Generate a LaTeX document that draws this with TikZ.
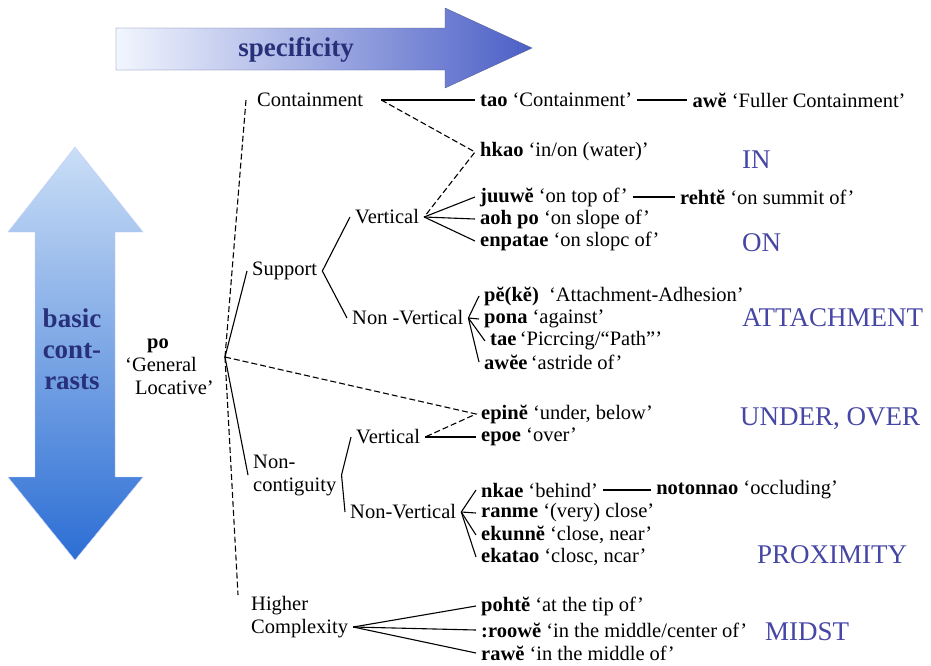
\documentclass[tikz,border=0pt]{standalone}
\usepackage{fontspec}
\setmainfont{Liberation Serif}
\usetikzlibrary{positioning}
\definecolor{navy}{RGB}{40,48,122}
\definecolor{areablue}{RGB}{70,70,165}
\definecolor{specleft}{RGB}{242,246,254}
\definecolor{specright}{RGB}{76,95,198}
\definecolor{specedge}{RGB}{85,95,145}
\definecolor{basictop}{RGB}{202,222,246}
\definecolor{basicbottom}{RGB}{44,110,212}

\begin{document}
\begin{tikzpicture}[x=1pt,y=-1pt,
    word/.style={anchor=west,inner xsep=5pt,inner ysep=1pt,align=left,font=\fontsize{20.5}{23}\selectfont},
    area/.style={anchor=west,inner xsep=0pt,text=areablue,font=\fontsize{27}{30}\selectfont},
    tie/.style={line width=1.1pt},
    hint/.style={line width=1.1pt,dash pattern=on 6pt off 3pt}]
    \useasboundingbox (0,0) rectangle (931,665);

    \draw[specedge,left color=specleft,right color=specright] (116,28) -- (445,28) -- (445,8) -- (532,48) -- (445,88) -- (445,70) -- (116,70) -- cycle;
    \node[text=navy,font=\fontsize{27}{30}\selectfont\bfseries] (spec) at (296,50) {specificity};
    \draw[basictop!70!blue!50,top color=basictop,bottom color=basicbottom] (75,147) -- (143,232) -- (115,232) -- (115,477) -- (143,477) -- (75,560) -- (8,477) -- (35,477) -- (35,232) -- (8,232) -- cycle;
    \node[text=navy,align=center,font=\fontsize{27}{31}\selectfont\bfseries] (basic) at (72,349) {basic\\cont-\\rasts};

    \node[word] (po) at (120,367) {\hspace*{22pt}\textbf{po}\\‘General\\\hspace*{10pt}Locative’};
    \node[word] (cont) at (252,100) {Containment};
    \node[word] (supp) at (247,271) {Support};
    \node[word] (noncon) at (248,475) {Non-\\contiguity};
    \node[word] (higher) at (246,617) {Higher\\Complexity};

    \node[word] (svert) at (350,217) {Vertical};
    \node[word] (snonv) at (347,318) {Non -Vertical};
    \node[word] (nvert) at (351,437) {Vertical};
    \node[word] (nnonv) at (345,512) {Non-Vertical};

    \node[word] (tao) at (475,100) {\textbf{tao} ‘Containment’};
    \node[word,right=50pt of tao] (awe) {\textbf{awĕ} ‘Fuller Containment’};
    \node[word] (hkao) at (475,152) {\textbf{hkao} ‘in/on (water)’};
    \node[word] (juuwe) at (475,197) {\textbf{juuwĕ} ‘on top of’};
    \node[word,right=42pt of juuwe] (rehte) {\textbf{rehtĕ} ‘on summit of’};
    \node[word] (aohpo) at (475,219) {\textbf{aoh po} ‘on slope of’};
    \node[word] (enpatae) at (475,241) {\textbf{enpatae} ‘on slopc of’};
    \node[word] (peke) at (479,296) {\textbf{pĕ(kĕ)}\ \ ‘Attachment-Adhesion’};
    \node[word] (pona) at (479,319) {\textbf{pona} ‘against’};
    \node[word] (tae) at (485,341) {\textbf{tae}\,‘Picrcing/“Path”’};
    \node[word] (awee) at (479,362) {\textbf{awĕe}\,‘astride of’};
    \node[word] (epine) at (476,414) {\textbf{epinĕ} ‘under, below’};
    \node[word] (epoe) at (476,437) {\textbf{epoe} ‘over’};
    \node[word] (nkae) at (476,490) {\textbf{nkae} ‘behind’};
    \node[word,right=48pt of nkae] (notonnao) {\textbf{notonnao} ‘occluding’};
    \node[word] (ranme) at (476,513) {\textbf{ranme} ‘(very) close’};
    \node[word] (ekunne) at (476,535) {\textbf{ekunnĕ} ‘close, near’};
    \node[word] (ekatao) at (476,557) {\textbf{ekatao} ‘closc, ncar’};
    \node[word] (pohte) at (476,606) {\textbf{pohtĕ} ‘at the tip of’};
    \node[word] (roowe) at (476,630) {\textbf{:roowĕ} ‘in the middle/center of’};
    \node[word] (rawe) at (476,653) {\textbf{rawĕ} ‘in the middle of’};

    \node[area] (in) at (742,160) {IN};
    \node[area] (on) at (742,243) {ON};
    \node[area] (attach) at (742,318) {ATTACHMENT};
    \node[area] (underover) at (740,419) {UNDER, OVER};
    \node[area] (proximity) at (757,555) {PROXIMITY};
    \node[area] (midst) at (765,632) {MIDST};

    \coordinate (pofan) at (225,357);
    \coordinate (contfan) at ([xshift=13pt]cont.east);
    \draw[hint] (pofan) -- ([xshift=-6pt]cont.west);
    \draw[tie] (pofan) -- (supp.west);
    \draw[hint] (pofan) -- (epine.west) -- (nvert.east);
    \draw[tie] (pofan) -- (noncon.west);
    \draw[hint] (pofan) -- ([xshift=-8pt]higher.north west);

    \draw[tie] (contfan) -- (tao.west);
    \draw[hint] (contfan) -- (hkao.west) -- (svert.east);
    \draw[tie] (tao) -- (awe);
    \foreach \leaf in {juuwe,aohpo,enpatae}
        \draw[tie] (svert.east) -- (\leaf.west);
    \draw[tie] (juuwe) -- (rehte);
    \draw[tie] (supp.east) -- (svert.west);
    \draw[tie] (supp.east) -- (snonv.west);
    \foreach \leaf in {peke,pona,tae,awee}
        \draw[tie] (snonv.east) -- (\leaf.west);

    \draw[tie] (noncon.east) -- (nvert.west);
    \draw[tie] (noncon.east) -- (nnonv.west);
    \draw[tie] (nvert.east) -- (epoe.west);
    \foreach \leaf in {nkae,ranme,ekunne,ekatao}
        \draw[tie] (nnonv.east) -- (\leaf.west);
    \draw[tie] (nkae) -- (notonnao);
    \foreach \leaf in {pohte,roowe,rawe}
        \draw[tie] ([yshift=-10pt]higher.east) -- (\leaf.west);
\end{tikzpicture}
\end{document}
